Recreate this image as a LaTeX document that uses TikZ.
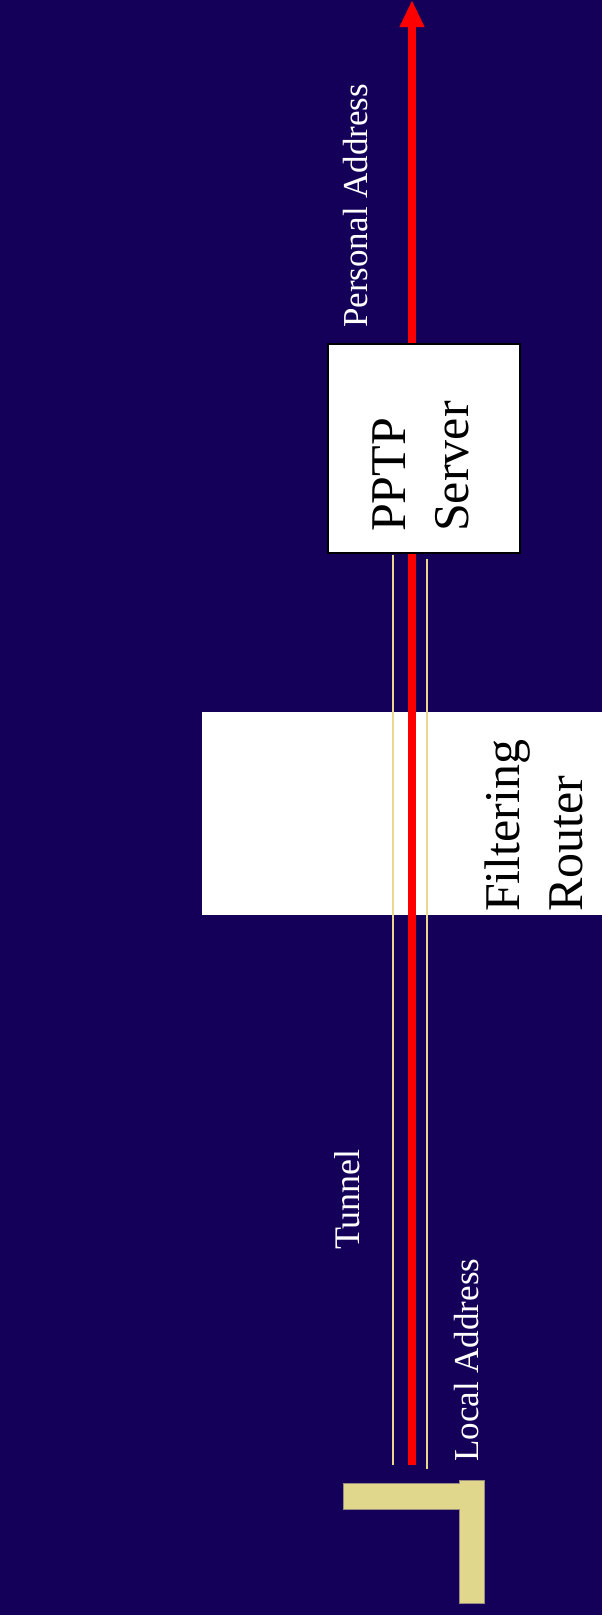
\documentclass[tikz,border=0pt]{standalone}
\usepackage{fontspec}
\setmainfont{Liberation Serif}
\usetikzlibrary{arrows.meta}
\definecolor{bgblue}{RGB}{21,0,89}
\definecolor{beige}{RGB}{224,214,140}
\definecolor{tunnelcol}{RGB}{232,214,145}
\definecolor{beigeedge}{RGB}{150,140,130}
\tikzset{
  whitebox/.style={fill=white, inner sep=0pt, outer sep=0pt},
  serverbox/.style={fill=white, draw=black, line width=1.5pt, inner sep=0pt, outer sep=0pt},
  bigtext/.style={rotate=90, anchor=base west, inner sep=0pt, text=black, font=\fontsize{50}{60}\selectfont},
  smalltext/.style={rotate=90, anchor=base west, inner sep=0pt, text=white, font=\fontsize{35}{42}\selectfont},
  redarrow/.style={draw=red, line width=8pt, -{Triangle[length=27pt,width=23pt]}},
  tunnelline/.style={draw=tunnelcol, line width=1.5pt},
}
\begin{document}
\begin{tikzpicture}[x=1pt,y=-1pt]
\fill[bgblue] (0,0) rectangle (602,1615);
\useasboundingbox (0,0) rectangle (602,1615);
% filtering router
\node[whitebox, minimum width=400pt, minimum height=203pt] (router) at (402,813.5) {};
% arrow
\coordinate (src) at (412,1465);
\coordinate (top) at (412,0);
\draw[redarrow] (src) -- (top);
% tunnel lines
\coordinate (tl1) at (393,555);
\coordinate (tl2) at (393,1465);
\coordinate (tr1) at (427,559);
\coordinate (tr2) at (427,1469);
\draw[tunnelline] (tl1) -- (tl2);
\draw[tunnelline] (tr1) -- (tr2);
% server box
\node[serverbox, minimum width=192pt, minimum height=209pt] (server) at (424,448.5) {};
% L shape
\fill[beige, draw=beigeedge, line width=0.5pt] (343,1483) -- (459,1483) -- (459,1480) -- (484,1480) -- (484,1603) -- (459,1603) -- (459,1509) -- (343,1509) -- cycle;
% texts
\node[bigtext] (pptp) at (405,532) {PPTP};
\node[bigtext] (serv) at (468,532) {Server};
\node[bigtext] (filt) at (519,912) {Filtering};
\node[bigtext] (rout) at (582,912) {Router};
\node[smalltext] (paddr) at (367,328) {Personal Address};
\node[smalltext, font=\fontsize{36}{42}\selectfont] (tun) at (359,1250) {Tunnel};
\node[smalltext] (laddr) at (478,1462) {Local Address};
\end{tikzpicture}
\end{document}
